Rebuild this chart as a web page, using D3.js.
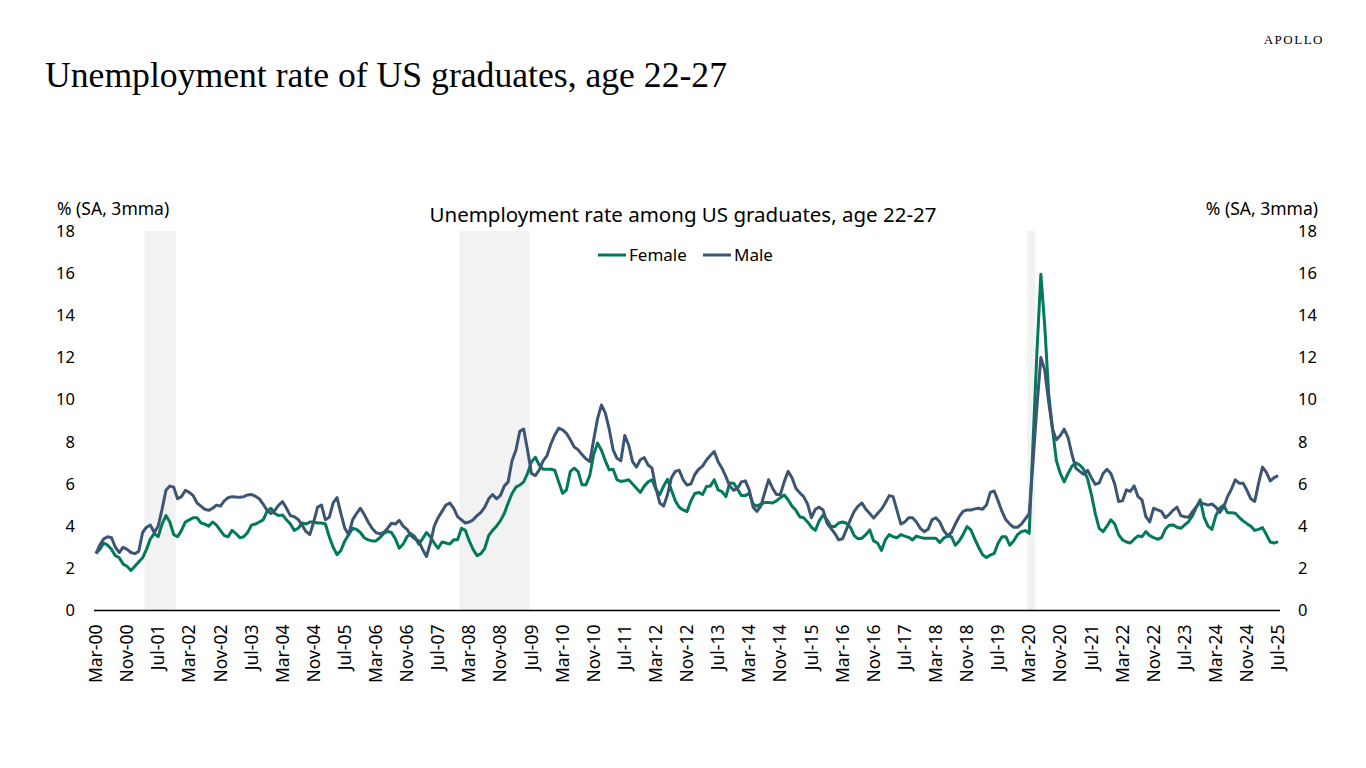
<!DOCTYPE html>
<html>
<head>
<meta charset="utf-8">
<script src="https://cdn.jsdelivr.net/npm/d3@7"></script>
<style>
  body { margin: 0; background: #fff; }
  svg { display: block; }
</style>
</head>
<body>
<div id="chart"></div>
<script>
// Data (3-month moving average, seasonally adjusted, %), Mar-00 .. Jul-25
const female = [
  2.7, 2.9, 3.2, 3.1, 2.9, 2.6, 2.5, 2.2, 2.1, 1.9,
  2.1, 2.3, 2.5, 2.9, 3.4, 3.65, 3.5, 4.1, 4.5, 4.2,
  3.6, 3.5, 3.8, 4.2, 4.3, 4.4, 4.4, 4.15, 4.1, 4.0,
  4.2, 4.05, 3.8, 3.55, 3.5, 3.8, 3.65, 3.45, 3.5, 3.7,
  4.05, 4.1, 4.2, 4.3, 4.7, 4.85, 4.6, 4.5, 4.53, 4.3,
  4.1, 3.8, 3.9, 4.15, 4.1, 4.2, 4.2, 4.15, 4.15, 4.1,
  3.5, 3.0, 2.65, 2.85, 3.3, 3.6, 3.9, 3.85, 3.7, 3.45,
  3.35, 3.3, 3.3, 3.45, 3.65, 3.75, 3.7, 3.4, 2.95, 3.15,
  3.5, 3.65, 3.5, 3.15, 3.4, 3.7, 3.5, 3.2, 2.95, 3.25,
  3.2, 3.15, 3.35, 3.35, 3.9, 3.8, 3.3, 2.9, 2.6, 2.7,
  2.95, 3.55, 3.8, 4.0, 4.25, 4.6, 5.1, 5.55, 5.85, 5.95,
  6.1, 6.5, 7.05, 7.27, 6.9, 6.7, 6.7, 6.7, 6.65, 6.1,
  5.56, 5.72, 6.6, 6.75, 6.59, 5.96, 5.96, 6.4, 7.4, 7.94,
  7.6, 7.1, 6.67, 6.7, 6.2, 6.12, 6.15, 6.2, 6.0, 5.8,
  5.6, 5.9, 6.1, 6.2, 5.75, 5.5, 5.9, 6.22, 5.7, 5.2,
  4.9, 4.77, 4.69, 5.2, 5.55, 5.6, 5.5, 5.88, 5.9, 6.2,
  5.72, 5.64, 5.4, 6.05, 6.04, 5.75, 5.45, 5.45, 5.56, 5.05,
  4.95, 5.05, 5.12, 5.12, 5.1, 5.2, 5.35, 5.48, 5.25, 4.95,
  4.75, 4.45, 4.4, 4.2, 3.95, 3.8, 4.25, 4.53, 4.3, 3.98,
  3.98, 4.15, 4.2, 4.14, 3.95, 3.55, 3.4, 3.43, 3.6, 3.82,
  3.3, 3.2, 2.85, 3.35, 3.6, 3.5, 3.45, 3.6, 3.53, 3.47,
  3.35, 3.53, 3.47, 3.43, 3.43, 3.43, 3.43, 3.22, 3.43, 3.53,
  3.5, 3.1, 3.3, 3.6, 3.98, 3.82, 3.4, 3.0, 2.65, 2.51,
  2.63, 2.71, 3.19, 3.5, 3.5, 3.1, 3.3, 3.6, 3.74, 3.79,
  3.66, 8.0, 12.3, 15.95, 13.5, 10.3, 8.6, 7.1, 6.5, 6.1,
  6.5, 6.85, 7.0, 6.9, 6.7, 6.25, 5.5, 4.6, 3.9, 3.74,
  4.0, 4.3, 4.1, 3.6, 3.35, 3.25, 3.2, 3.38, 3.54, 3.5,
  3.74, 3.55, 3.46, 3.38, 3.45, 3.85, 4.04, 4.06, 3.95, 3.9,
  4.06, 4.22, 4.5, 4.9, 5.25, 4.4, 4.0, 3.85, 4.5, 4.85,
  5.0, 4.64, 4.64, 4.61, 4.42, 4.25, 4.12, 4.0, 3.8, 3.85,
  3.93, 3.6, 3.25, 3.2, 3.27
];

const male = [
  2.7, 3.1, 3.4, 3.5, 3.45, 3.0, 2.75, 3.0, 2.9, 2.75,
  2.7, 2.8, 3.7, 3.95, 4.05, 3.7, 4.0, 4.8, 5.7, 5.9,
  5.85, 5.3, 5.4, 5.7, 5.6, 5.45, 5.1, 4.95, 4.8, 4.75,
  4.85, 5.0, 4.95, 5.2, 5.35, 5.4, 5.38, 5.37, 5.4, 5.48,
  5.5, 5.42, 5.3, 5.05, 4.75, 4.6, 4.75, 5.0, 5.16, 4.85,
  4.5, 4.45, 4.32, 4.05, 3.75, 3.6, 4.2, 4.9, 5.0, 4.3,
  4.42, 5.1, 5.35, 4.6, 3.9, 3.6, 4.3, 4.6, 4.85, 4.55,
  4.2, 3.9, 3.7, 3.63, 3.7, 3.9, 4.14, 4.1, 4.28, 4.0,
  3.85, 3.55, 3.4, 3.3, 2.9, 2.56, 3.19, 4.0, 4.4, 4.7,
  5.0, 5.1, 4.85, 4.45, 4.3, 4.15, 4.2, 4.3, 4.5, 4.65,
  4.9, 5.3, 5.5, 5.3, 5.45, 5.9, 6.1, 7.1, 7.6, 8.5,
  8.6, 7.6, 6.5, 6.4, 6.67, 7.1, 7.35, 7.9, 8.33, 8.65,
  8.57, 8.4, 8.1, 7.75, 7.62, 7.4, 7.2, 7.06, 8.1, 9.1,
  9.75, 9.36, 8.6, 7.62, 7.22, 7.1, 8.3, 7.85, 7.06, 6.8,
  7.15, 7.25, 6.9, 6.75, 5.8, 5.1, 4.95, 5.5, 6.3, 6.6,
  6.65, 6.2, 5.95, 6.0, 6.45, 6.7, 6.85, 7.14, 7.35, 7.54,
  7.06, 6.75, 6.35, 5.9, 5.7, 5.8, 6.1, 6.15, 5.72, 4.9,
  4.7, 4.95, 5.6, 6.2, 5.8, 5.5, 5.5, 6.1, 6.6, 6.3,
  5.8, 5.58, 5.4, 5.05, 4.4, 4.8, 4.9, 4.77, 4.14, 3.9,
  3.66, 3.35, 3.4, 3.85, 4.3, 4.7, 4.95, 5.1, 4.8, 4.6,
  4.38, 4.6, 4.8, 5.1, 5.45, 5.4, 4.75, 4.1, 4.2, 4.4,
  4.4, 4.2, 3.9, 3.74, 3.85, 4.3, 4.4, 4.2, 3.8, 3.55,
  3.7, 4.1, 4.45, 4.7, 4.77, 4.77, 4.82, 4.85, 4.8, 5.0,
  5.6, 5.67, 5.2, 4.7, 4.3, 4.1, 3.95, 3.95, 4.1, 4.35,
  4.6, 7.1, 9.7, 12.0, 11.4, 9.9, 8.6, 8.1, 8.3, 8.6,
  8.2, 7.4, 6.75, 6.6, 6.46, 6.65, 6.3, 5.98, 6.05, 6.5,
  6.7, 6.5, 6.0, 5.17, 5.2, 5.72, 5.65, 5.91, 5.4, 5.25,
  4.45, 4.2, 4.85, 4.77, 4.7, 4.4, 4.55, 4.75, 4.9, 4.5,
  4.45, 4.42, 4.69, 4.93, 5.12, 5.06, 5.0, 5.05, 4.9, 4.65,
  4.9, 5.4, 5.75, 6.2, 6.04, 6.04, 5.7, 5.3, 5.17, 6.04,
  6.8, 6.55, 6.15, 6.3, 6.4
];

// Month categories Mar-00 .. Jul-25
const fmt = d3.timeFormat("%b-%y");
const months = d3.timeMonth.range(new Date(2000, 2, 1), new Date(2025, 7, 1)).map(fmt);

const tickLabels = [
  "Mar-00", "Nov-00", "Jul-01", "Mar-02", "Nov-02", "Jul-03", "Mar-04", "Nov-04",
  "Jul-05", "Mar-06", "Nov-06", "Jul-07", "Mar-08", "Nov-08", "Jul-09", "Mar-10",
  "Nov-10", "Jul-11", "Mar-12", "Nov-12", "Jul-13", "Mar-14", "Nov-14", "Jul-15",
  "Mar-16", "Nov-16", "Jul-17", "Mar-18", "Nov-18", "Jul-19", "Mar-20", "Nov-20",
  "Jul-21", "Mar-22", "Nov-22", "Jul-23", "Mar-24", "Nov-24", "Jul-25"
];
const yTicks = [0, 2, 4, 6, 8, 10, 12, 14, 16, 18];

// Recessions (first and last shaded month)
const recStart = ["Apr-01", "Jan-08", "Mar-20"];
const recEnd = ["Nov-01", "Jun-09", "Apr-20"];

const seriesNames = ["Female", "Male"];
const seriesColors = ["#007a5a", "#3c5572"];

const width = 1366, height = 768;
const sans = "'Noto Sans', 'Open Sans', sans-serif";

const svg = d3.select("#chart").append("svg")
  .attr("width", width)
  .attr("height", height);

const x = d3.scaleBand().domain(months).range([94, 1280]);
const y = d3.scaleLinear().domain([0, 18]).range([610.5, 231]);
const xc = m => x(m) + x.bandwidth() / 2;

// recession shading
svg.append("g").selectAll("rect")
  .data(recStart.map((s, i) => [s, recEnd[i]]))
  .enter()
  .append("rect")
  .attr("x", d => x(d[0]))
  .attr("width", d => x(d[1]) + x.bandwidth() - x(d[0]))
  .attr("y", y(18))
  .attr("height", y(0) - y(18))
  .attr("fill", "#f2f2f2");

// axes
const yLeft = d3.axisLeft(y).tickValues(yTicks).tickSize(0).tickPadding(0);
svg.append("g")
  .attr("transform", "translate(75,0)")
  .call(yLeft)
  .call(g => g.select(".domain").remove())
  .selectAll("text")
  .attr("font-family", sans).attr("font-size", 16.5).attr("fill", "#000");

const yRight = d3.axisRight(y).tickValues(yTicks).tickSize(0).tickPadding(0);
svg.append("g")
  .attr("transform", "translate(1298,0)")
  .call(yRight)
  .call(g => g.select(".domain").remove())
  .selectAll("text")
  .attr("font-family", sans).attr("font-size", 16.5).attr("fill", "#000");

const xAxis = d3.axisBottom(x).tickValues(tickLabels).tickSize(0).tickPadding(0);
const gx = svg.append("g")
  .attr("transform", `translate(0,${y(0)})`)
  .call(xAxis);
gx.select(".domain").attr("stroke", "#000").attr("stroke-width", 1.5)
  .attr("d", "M94,0H1280");
gx.selectAll("text")
  .attr("font-family", sans).attr("font-size", 17.5).attr("fill", "#000")
  .attr("transform", "rotate(-90)")
  .attr("text-anchor", "end")
  .attr("x", -14)
  .attr("y", 0)
  .attr("dy", "0.35em");

// lines
const line = d3.line()
  .x((d, i) => xc(months[i]))
  .y(d => y(d));

[female, male].forEach((s, k) => {
  svg.append("path")
    .datum(s)
    .attr("fill", "none")
    .attr("stroke", seriesColors[k])
    .attr("stroke-width", 3)
    .attr("stroke-linejoin", "round")
    .attr("d", line);
});

// titles
svg.append("text")
  .attr("x", 45).attr("y", 87)
  .attr("font-family", "'Liberation Serif', 'DejaVu Serif', serif")
  .attr("font-size", 36)
  .attr("textLength", 682).attr("lengthAdjust", "spacingAndGlyphs")
  .attr("fill", "#000")
  .text("Unemployment rate of US graduates, age 22-27");

svg.append("text")
  .attr("x", 1324).attr("y", 44)
  .attr("text-anchor", "end")
  .attr("font-family", "'Liberation Serif', serif")
  .attr("font-size", 13)
  .attr("letter-spacing", 1.5)
  .attr("fill", "#000")
  .text("APOLLO");

svg.append("text")
  .attr("x", 683).attr("y", 222)
  .attr("text-anchor", "middle")
  .attr("font-family", sans).attr("font-size", 20.5)
  .attr("fill", "#000")
  .text("Unemployment rate among US graduates, age 22-27");

svg.append("text")
  .attr("x", 57).attr("y", 215)
  .attr("font-family", sans).attr("font-size", 17.5)
  .attr("fill", "#000")
  .text("% (SA, 3mma)");

svg.append("text")
  .attr("x", 1318).attr("y", 215)
  .attr("text-anchor", "end")
  .attr("font-family", sans).attr("font-size", 17.5)
  .attr("fill", "#000")
  .text("% (SA, 3mma)");

// legend
const legendX = [598, 703];
const legend = svg.append("g").selectAll("g")
  .data(seriesNames)
  .enter()
  .append("g")
  .attr("transform", (d, i) => `translate(${legendX[i]},255)`);
legend.append("line")
  .attr("x1", 0).attr("x2", 28)
  .attr("stroke", (d, i) => seriesColors[i])
  .attr("stroke-width", 3);
legend.append("text")
  .attr("x", 31).attr("dy", "0.35em")
  .attr("font-family", sans).attr("font-size", 17)
  .attr("fill", "#000")
  .text(d => d);
</script>
</body>
</html>
